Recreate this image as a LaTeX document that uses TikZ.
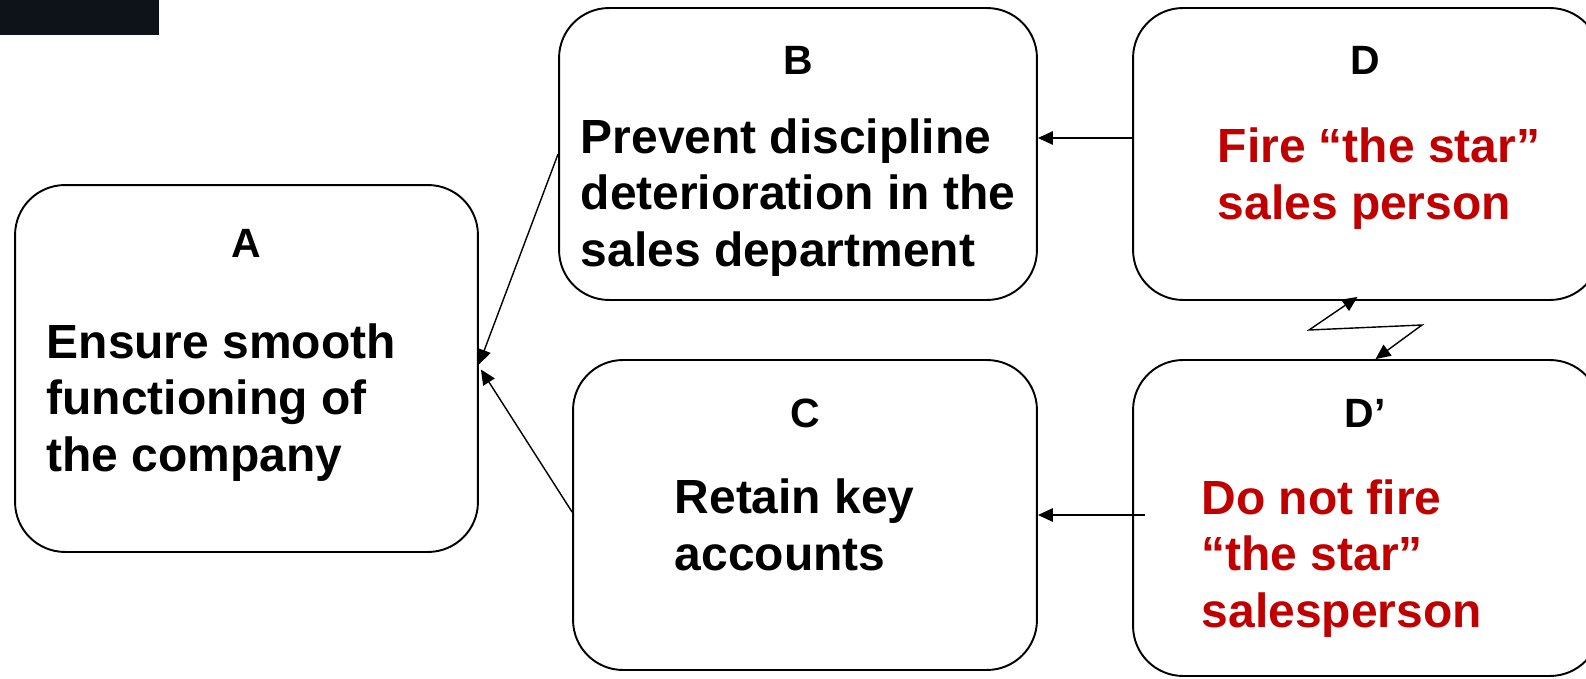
\documentclass[tikz,border=0pt]{standalone}
\usepackage{fontspec}
\setmainfont{Liberation Sans}
\usetikzlibrary{arrows.meta,calc}
\definecolor{ColorStar}{HTML}{C00000}
\definecolor{ColorBar}{HTML}{0D1318}

\begin{document}
\begin{tikzpicture}[x=0.02cm, y=-0.02cm,
        box/.style={draw, line width=1.1pt, rounded corners=1cm, inner sep=0pt},
        lbl/.style={font=\fontsize{23.3}{28}\selectfont\bfseries, inner sep=0pt},
        txt/.style={font=\fontsize{27.3}{31.9}\selectfont\bfseries, align=left, inner sep=0pt, anchor=base west},
        ->, >={Triangle[length=0.3cm, width=0.27cm]}, line width=0.8pt]
        \clip (0,0) rectangle (1586,679);
        \useasboundingbox (0,0) rectangle (1586,679);
        \fill[ColorBar] (0,0) rectangle (159,35);

        \node[box, minimum width=9.26cm, minimum height=7.34cm] (A) at (246.5,368.5) {};
        \node[box, minimum width=9.56cm, minimum height=5.84cm] (B) at (798,154) {};
        \node[box, minimum width=9.28cm, minimum height=6.2cm] (C) at (805,515) {};
        \node[box, minimum width=9.34cm, minimum height=5.84cm] (D) at (1366.5,154) {};
        \node[box, minimum width=9.34cm, minimum height=6.32cm] (Dp) at (1366.5,518) {};

        \node[lbl, anchor=base] (la) at (246,257) {A};
        \node[lbl, anchor=base] (lb) at (798,75) {B};
        \node[lbl, anchor=base] (lc) at (805,427) {C};
        \node[lbl, anchor=base] (ld) at (1365,75) {D};
        \node[lbl, anchor=base] (ldp) at (1365,427) {D’};

        % base anchor sits on the last line
        \node[txt] (ta) at (46,471) {Ensure smooth\\functioning of\\the company};
        \node[txt] (tb) at (580,266) {Prevent discipline\\deterioration in the\\sales department};
        \node[txt] (tc) at (674,570) {Retain key\\accounts};
        \node[txt, text=ColorStar] (td) at (1217,219) {Fire “the star”\\sales person};
        \node[txt, text=ColorStar] (tdp) at (1201,627) {Do not fire\\“the star”\\salesperson};

        \coordinate (zl) at (1309,330);
        \coordinate (zr) at (1422,325);
        \draw ($(D.west)+(0,-16)$) -- ($(B.east)+(0,-16)$);
        \draw ($(Dp.west)+(13,-3)$) -- (C.east);
        \draw (B.west) -- ($(A.east)+(0,-4)$);
        \draw ($(C.west)+(0,-3)$) -- ($(A.east)+(2,1)$);
        \draw[<->] ($(D.south)+(-9,-4)$) -- (zl) -- (zr) -- ($(Dp.north)+(9,0)$);
    \end{tikzpicture}
\end{document}
